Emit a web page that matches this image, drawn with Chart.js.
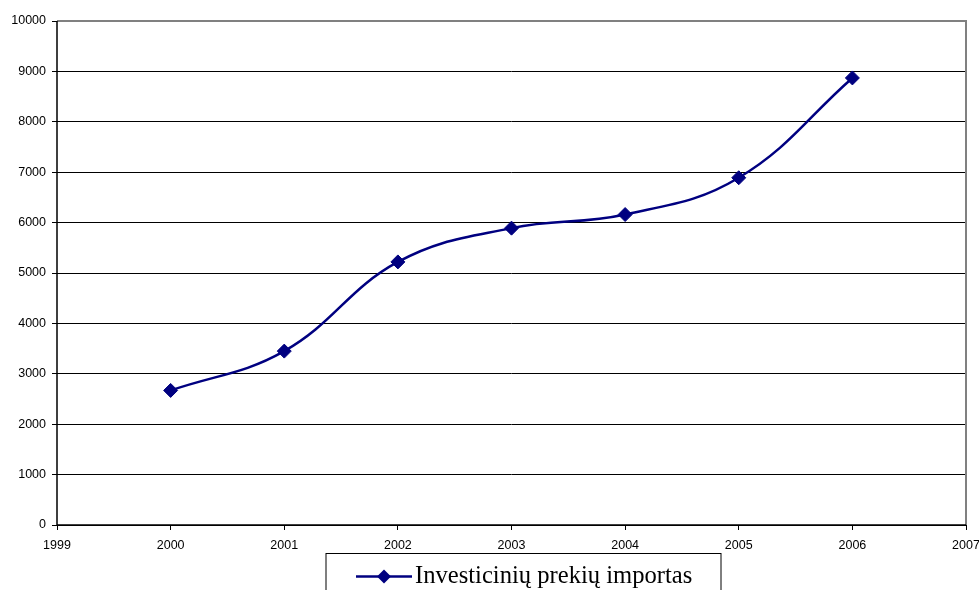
<!DOCTYPE html>
<html>
<head>
<meta charset="utf-8">
<script src="https://cdn.jsdelivr.net/npm/chart.js@4"></script>
<style>
  html, body { margin: 0; padding: 0; background: #ffffff; }
  #wrap { position: relative; width: 979px; height: 590px; overflow: hidden; }
</style>
</head>
<body>
<div id="wrap"><canvas id="chart" width="979" height="590"></canvas></div>
<script>
// Import of investment goods by year
const years = [2000, 2001, 2002, 2003, 2004, 2005, 2006];
const importValues = [2670, 3450, 5220, 5890, 6160, 6890, 8870];
const seriesLabel = 'Investicinių prekių importas';
const xTickValues = [1999, 2000, 2001, 2002, 2003, 2004, 2005, 2006, 2007];
const yTickValues = [0, 1000, 2000, 3000, 4000, 5000, 6000, 7000, 8000, 9000, 10000];

const NAVY = '#000080';

// Gray plot-area frame, then the black value and category axes on top
const framePlugin = {
  id: 'frame',
  afterDatasetsDraw(chart) {
    const { ctx, chartArea: a } = chart;
    ctx.save();
    ctx.strokeStyle = '#808080';
    ctx.lineWidth = 2;
    ctx.beginPath();
    ctx.moveTo(a.left, a.top);
    ctx.lineTo(a.right, a.top);
    ctx.lineTo(a.right, a.bottom);
    ctx.stroke();
    ctx.strokeStyle = '#000000';
    ctx.lineWidth = 1.5;
    ctx.beginPath();
    ctx.moveTo(a.left, a.top);
    ctx.lineTo(a.left, a.bottom);
    ctx.lineTo(a.right, a.bottom);
    ctx.stroke();
    ctx.restore();
  }
};

// Boxed legend below the axis
const boxLegendPlugin = {
  id: 'boxLegend',
  afterDraw(chart) {
    const { ctx } = chart;
    const ds = chart.data.datasets[0];
    const boxLeft = 326, boxTop = 553.5, boxRight = 721, boxBottom = 600;
    ctx.save();
    ctx.strokeStyle = '#000000';
    ctx.lineWidth = 1;
    ctx.strokeRect(boxLeft, boxTop, boxRight - boxLeft, boxBottom - boxTop);
    const cy = 576.5;
    ctx.strokeStyle = NAVY;
    ctx.lineWidth = 2.5;
    ctx.beginPath();
    ctx.moveTo(356, cy);
    ctx.lineTo(412, cy);
    ctx.stroke();
    ctx.fillStyle = NAVY;
    ctx.beginPath();
    ctx.moveTo(384, cy - 7);
    ctx.lineTo(391, cy);
    ctx.lineTo(384, cy + 7);
    ctx.lineTo(377, cy);
    ctx.closePath();
    ctx.fill();
    ctx.fillStyle = '#000000';
    ctx.font = '24.6px "Liberation Serif", "Times New Roman", serif';
    ctx.textBaseline = 'alphabetic';
    ctx.textAlign = 'left';
    ctx.fillText(ds.label, 415, 583);
    ctx.restore();
  }
};

new Chart(document.getElementById('chart'), {
  type: 'line',
  data: {
    datasets: [{
      label: seriesLabel,
      data: years.map((y, i) => ({ x: y, y: importValues[i] })),
      borderColor: NAVY,
      backgroundColor: NAVY,
      borderWidth: 2.5,
      tension: 0.4,
      pointStyle: 'rectRot',
      pointRadius: 7,
      pointHoverRadius: 7,
      pointBorderWidth: 1,
      pointBorderColor: NAVY,
      pointBackgroundColor: NAVY,
      fill: false
    }]
  },
  options: {
    responsive: false,
    animation: false,
    events: [],
    layout: { padding: { left: 0, right: 13, top: 21, bottom: 0 } },
    plugins: {
      legend: { display: false },
      tooltip: { enabled: false }
    },
    scales: {
      x: {
        type: 'linear',
        min: 1999,
        max: 2007,
        afterBuildTicks(scale) {
          scale.ticks = xTickValues.map(v => ({ value: v }));
        },
        afterFit(scale) {
          scale.height = 65;
          // let the end labels overhang instead of shrinking the plot
          scale.paddingLeft = 0;
          scale.paddingRight = 0;
        },
        border: { display: false },
        grid: {
          drawOnChartArea: false,
          drawTicks: true,
          tickLength: 5,
          color: '#000000',
          lineWidth: 1
        },
        ticks: {
          color: '#000000',
          font: { family: '"Liberation Sans", Arial, sans-serif', size: 12.5 },
          padding: 8,
          maxRotation: 0,
          autoSkip: false,
          callback: v => String(v)
        }
      },
      y: {
        min: 0,
        max: 10000,
        afterBuildTicks(scale) {
          scale.ticks = yTickValues.map(v => ({ value: v }));
        },
        afterFit(scale) {
          scale.width = 57;
          scale.paddingTop = 0;
          scale.paddingBottom = 0;
        },
        border: { display: false },
        grid: {
          color: '#000000',
          lineWidth: 1,
          drawTicks: true,
          tickLength: 5
        },
        ticks: {
          color: '#000000',
          font: { family: '"Liberation Sans", Arial, sans-serif', size: 12.5 },
          padding: 6,
          callback: v => String(v)
        }
      }
    }
  },
  plugins: [framePlugin, boxLegendPlugin]
});
</script>
</body>
</html>
